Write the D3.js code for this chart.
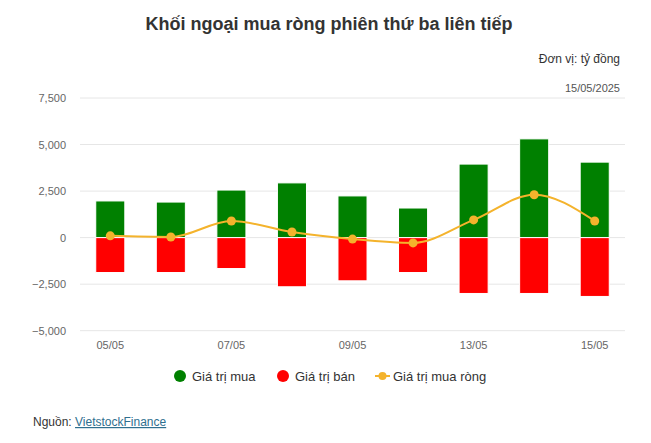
<!DOCTYPE html>
<html>
<head>
<meta charset="utf-8">
<script src="https://cdn.jsdelivr.net/npm/d3@7"></script>
<style>
  body { margin: 0; background: #fff; }
  svg { display: block; font-family: "Liberation Sans", Arial, sans-serif; }
</style>
</head>
<body>
<svg id="chart" width="651" height="443"></svg>
<script>
// DATA
const dates = ["05/05", "06/05", "07/05", "08/05", "09/05", "12/05", "13/05", "14/05", "15/05"];
const buyValues = [1970, 1910, 2555, 2940, 2240, 1590, 3950, 5305, 4055];
const sellValues = [-1875, -1875, -1660, -2640, -2320, -1875, -3000, -3000, -3160];
const netValues = [95, 35, 895, 300, -80, -285, 950, 2305, 895];
const yTicks = [-5000, -2500, 0, 2500, 5000, 7500];
const xLabels = ["05/05", "07/05", "09/05", "13/05", "15/05"];

const legendItems = [
  { name: "Giá trị mua", color: "#008000", type: "dot" },
  { name: "Giá trị bán", color: "#ff0000", type: "dot" },
  { name: "Giá trị mua ròng", color: "#f4b32c", type: "line" },
];

// CANVAS SETUP
const svg = d3.select("#chart");
const margin = { top: 98, right: 26, bottom: 112, left: 80 },
  width = 651 - margin.left - margin.right,
  height = 443 - margin.top - margin.bottom;

const x = d3.scaleBand().domain(dates).range([margin.left, margin.left + width]).padding(0);
const y = d3.scaleLinear().domain([-5000, 7500]).range([margin.top + height - 0.3, margin.top]);

// TITLE & NOTES
svg.append("text")
  .attr("x", 329).attr("y", 30)
  .attr("text-anchor", "middle")
  .attr("font-size", 18).attr("font-weight", "bold").attr("fill", "#333")
  .text("Khối ngoại mua ròng phiên thứ ba liên tiếp");

svg.append("text")
  .attr("x", 620).attr("y", 63)
  .attr("text-anchor", "end").attr("font-size", 12).attr("fill", "#333")
  .text("Đơn vị: tỷ đồng");

svg.append("text")
  .attr("x", 620).attr("y", 92)
  .attr("text-anchor", "end").attr("font-size", 11).attr("fill", "#555")
  .text("15/05/2025");

// GRID + Y AXIS
const gy = svg.append("g");
gy.selectAll("line")
  .data(yTicks)
  .join("line")
  .attr("x1", margin.left).attr("x2", margin.left + width)
  .attr("y1", (d) => y(d)).attr("y2", (d) => y(d))
  .attr("stroke", "#e6e6e6").attr("stroke-width", 1);

gy.selectAll("text")
  .data(yTicks)
  .join("text")
  .attr("x", 66).attr("y", (d) => y(d) + 4)
  .attr("text-anchor", "end").attr("font-size", 11).attr("fill", "#666")
  .text((d) => d3.format(",")(d));

// X AXIS LABELS
svg.append("g").selectAll("text")
  .data(xLabels)
  .join("text")
  .attr("x", (d) => x(d) + x.bandwidth() / 2)
  .attr("y", 349)
  .attr("text-anchor", "middle").attr("font-size", 11).attr("fill", "#666")
  .text((d) => d);

// BARS
const barW = x.bandwidth() * 0.48;
const bars = svg.append("g");

bars.selectAll("rect.buy")
  .data(dates)
  .join("rect")
  .attr("class", "buy")
  .attr("x", (d) => x(d) + (x.bandwidth() - barW) / 2)
  .attr("y", (d, i) => y(buyValues[i]))
  .attr("width", barW)
  .attr("height", (d, i) => y(0) - y(buyValues[i]))
  .attr("fill", "#008000")
  .attr("stroke", "#fff").attr("stroke-width", 1);

bars.selectAll("rect.sell")
  .data(dates)
  .join("rect")
  .attr("class", "sell")
  .attr("x", (d) => x(d) + (x.bandwidth() - barW) / 2)
  .attr("y", y(0))
  .attr("width", barW)
  .attr("height", (d, i) => y(sellValues[i]) - y(0))
  .attr("fill", "#ff0000")
  .attr("stroke", "#fff").attr("stroke-width", 1);

// NET LINE
const line = d3.line()
  .x((d, i) => x(dates[i]) + x.bandwidth() / 2)
  .y((d) => y(d))
  .curve(d3.curveMonotoneX);

svg.append("path")
  .datum(netValues)
  .attr("d", line)
  .attr("fill", "none")
  .attr("stroke", "#f4b32c").attr("stroke-width", 2);

svg.append("g").selectAll("circle")
  .data(netValues)
  .join("circle")
  .attr("cx", (d, i) => x(dates[i]) + x.bandwidth() / 2)
  .attr("cy", (d) => y(d))
  .attr("r", 4.5)
  .attr("fill", "#f4b32c");

// LEGEND
const legendX = [180, 283, 375];
const lg = svg.append("g").selectAll("g")
  .data(legendItems)
  .join("g")
  .attr("transform", (d, i) => `translate(${legendX[i]},376)`);

lg.filter((d) => d.type === "dot")
  .append("circle").attr("r", 6).attr("fill", (d) => d.color);

lg.filter((d) => d.type === "line")
  .call((g) => {
    g.append("line").attr("x1", 0).attr("x2", 15).attr("stroke", (d) => d.color).attr("stroke-width", 2);
    g.append("circle").attr("cx", 7.5).attr("r", 4).attr("fill", (d) => d.color);
  });

lg.append("text")
  .attr("x", (d) => (d.type === "dot" ? 12 : 18))
  .attr("y", 4.5)
  .attr("font-size", 13).attr("fill", "#333")
  .text((d) => d.name);

// SOURCE
const src = svg.append("text")
  .attr("x", 33).attr("y", 426)
  .attr("font-size", 12).attr("fill", "#333");
src.append("tspan").text("Nguồn: ");
src.append("tspan")
  .attr("fill", "#2f6f8f").attr("text-decoration", "underline")
  .text("VietstockFinance");
</script>
</body>
</html>
